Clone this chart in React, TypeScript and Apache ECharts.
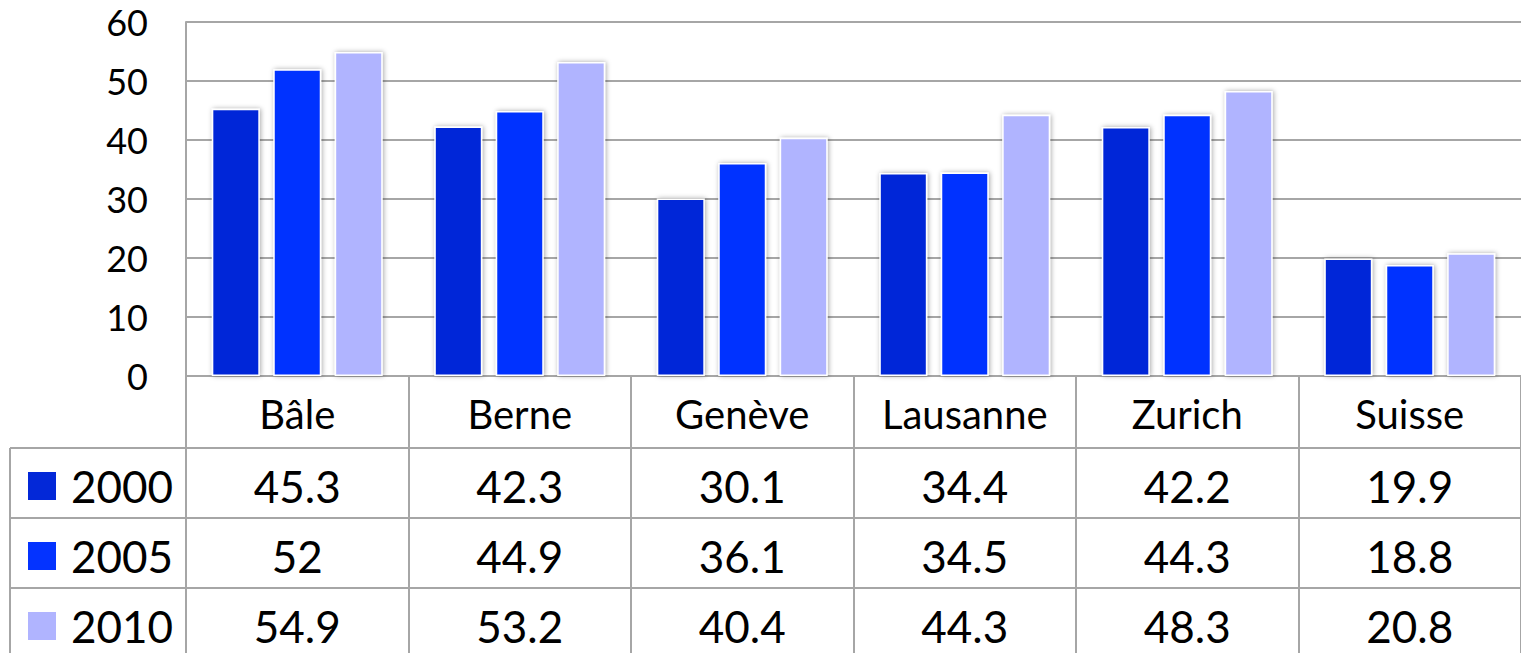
import React, { useEffect, useRef } from "react";
import * as echarts from "echarts";

const categories = ["Bâle", "Berne", "Genève", "Lausanne", "Zurich", "Suisse"];
const seriesNames = ["2000", "2005", "2010"];
const values2000 = [45.3, 42.3, 30.1, 34.4, 42.2, 19.9];
const values2005 = [52, 44.9, 36.1, 34.5, 44.3, 18.8];
const values2010 = [54.9, 53.2, 40.4, 44.3, 48.3, 20.8];
const colors = ["#0328d8", "#0433ff", "#b0b4ff"];
const yTicks = { min: 0, max: 60, interval: 10 };

const W = 1521;
const H = 653;
const GRID_LEFT = 186;
const GRID_TOP = 22;
const GRID_BOTTOM = 277;
const FONT = "Lato, 'Noto Sans', sans-serif";
const LINE = "#a6a6a6";

export default function App() {
  const ref = useRef<HTMLDivElement>(null);
  useEffect(() => {
    const el = ref.current!;
    const chart = echarts.init(el, null, { renderer: "svg" });
    const allValues = [values2000, values2005, values2010];
    const option: any = {
      animation: false,
      backgroundColor: "#fff",
      grid: { left: GRID_LEFT, top: GRID_TOP, right: 0, bottom: GRID_BOTTOM, containLabel: false },
      xAxis: {
        type: "category",
        data: categories,
        axisLine: { show: true, lineStyle: { color: LINE, width: 2 } },
        axisTick: { show: true, length: GRID_BOTTOM, lineStyle: { color: LINE, width: 2 } },
        axisLabel: {
          margin: 38,
          verticalAlign: "middle",
          fontSize: 40,
          color: "#000",
          fontFamily: FONT,
        },
      },
      yAxis: {
        type: "value",
        min: yTicks.min,
        max: yTicks.max,
        interval: yTicks.interval,
        axisLine: { show: true, lineStyle: { color: LINE, width: 2 } },
        axisTick: { show: false },
        splitLine: { show: true, lineStyle: { color: LINE, width: 2 } },
        axisLabel: { fontSize: 36, color: "#000", fontFamily: FONT, margin: 38 },
      },
      series: seriesNames.map((name, i) => ({
        name,
        type: "bar",
        data: allValues[i],
        barWidth: 48,
        barGap: "28%",
        itemStyle: {
          color: colors[i],
          borderColor: "#ffffff",
          borderWidth: 1.5,
          shadowBlur: 5,
          shadowColor: "rgba(0,0,0,0.35)",
          shadowOffsetX: 1,
          shadowOffsetY: 0,
        },
      })),
    };
    chart.setOption(option);

    const centers = categories.map((c) => chart.convertToPixel({ xAxisIndex: 0 }, c) as number);
    const rowTops = [448, 518, 588];
    const rowH = 70;
    const graphic: any[] = [];
    rowTops.forEach((y) => {
      graphic.push({
        type: "line",
        shape: { x1: 10, y1: y, x2: W, y2: y },
        style: { stroke: LINE, lineWidth: 2 },
      });
    });
    graphic.push({
      type: "line",
      shape: { x1: 10, y1: 448, x2: 10, y2: H },
      style: { stroke: LINE, lineWidth: 2 },
    });
    seriesNames.forEach((name, r) => {
      const cy = rowTops[r] + rowH / 2 + 3;
      graphic.push({
        type: "rect",
        shape: { x: 28, y: cy - 14, width: 28, height: 28 },
        style: { fill: colors[r] },
      });
      graphic.push({
        type: "text",
        x: 71,
        y: cy,
        style: {
          text: name,
          fontSize: 44,
          fontFamily: FONT,
          fill: "#000",
          align: "left",
          verticalAlign: "middle",
        },
      });
      allValues[r].forEach((v, c) => {
        graphic.push({
          type: "text",
          x: centers[c],
          y: cy,
          style: {
            text: String(v),
            fontSize: 44,
            fontFamily: FONT,
            fill: "#000",
            align: "center",
            verticalAlign: "middle",
          },
        });
      });
    });
    chart.setOption({ graphic });
    return () => chart.dispose();
  }, []);
  return (
    <div
      ref={ref}
      style={{ position: "fixed", left: 0, top: 0, width: W, height: H, background: "#fff" }}
    />
  );
}
